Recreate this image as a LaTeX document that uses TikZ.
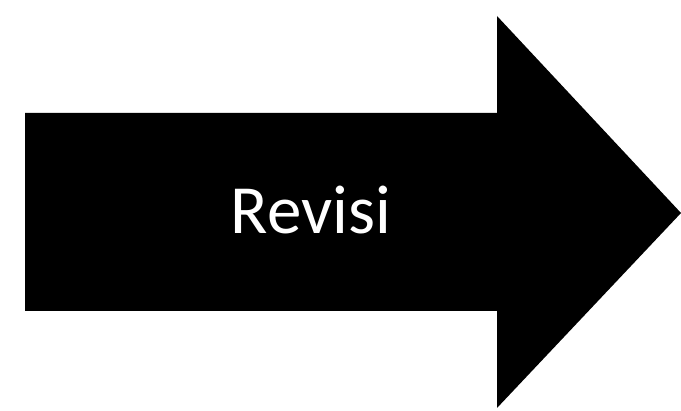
\documentclass[tikz,border=0pt]{standalone}
\usepackage{fontspec}
\setmainfont{Carlito}
\begin{document}
\begin{tikzpicture}[x=1pt,y=-1pt,
  arrowshape/.style={fill=black,draw=none},
  label/.style={text=white,font=\fontsize{69}{69}\selectfont,inner sep=0pt,anchor=base}]
\useasboundingbox (0,0) rectangle (681,411);
\fill[white] (0,0) rectangle (681,411);
\path[arrowshape] (25,113) -- (497,113) -- (497,16) -- (681,213) -- (497,408) -- (497,311) -- (25,311) -- cycle;
\node[label] (t) at (311,234) {Revisi};
\end{tikzpicture}
\end{document}
